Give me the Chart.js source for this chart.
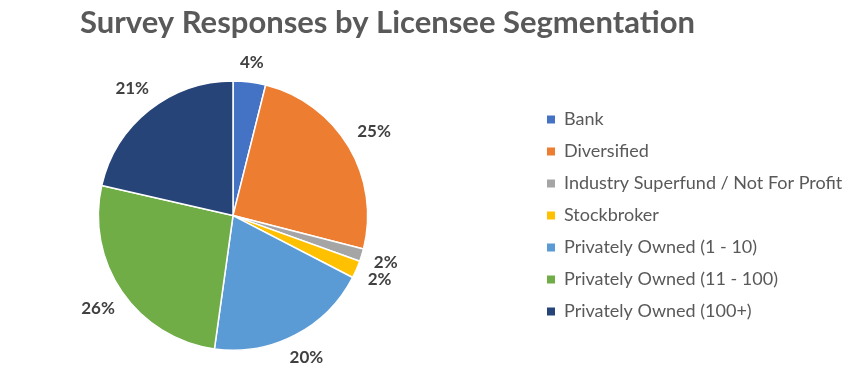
<!DOCTYPE html>
<html><head><meta charset="utf-8">
<script src="https://cdn.jsdelivr.net/npm/chart.js@4.4.1/dist/chart.umd.min.js"></script>
<style>html,body{margin:0;padding:0;background:#fff;overflow:hidden;} #wrap{width:850px;height:381px;position:relative;overflow:hidden;} #c{position:absolute;left:-80px;top:0;}</style>
</head><body><div id="wrap"><canvas id="c" width="930" height="381"></canvas></div>
<script>
const titleText = 'Survey Responses by Licensee Segmentation';
const categories = ['Bank', 'Diversified', 'Industry Superfund / Not For Profit', 'Stockbroker', 'Privately Owned (1 - 10)', 'Privately Owned (11 - 100)', 'Privately Owned (100+)'];
const shares = [3.9, 25.1, 1.5, 2.1, 19.6, 26.4, 21.4];
const colors = ['#4472C4', '#ED7D31', '#A5A5A5', '#FFC000', '#5B9BD5', '#70AD47', '#264478'];

const SHIFT = 80; // canvas is offset left by this many px
const pctLabels = {
  id: 'pctLabels',
  afterDatasetsDraw(chart) {
    const ctx = chart.ctx;
    const meta = chart.getDatasetMeta(0);
    const data = chart.data.datasets[0].data;
    const total = data.reduce((a, b) => a + b, 0);
    ctx.save();
    ctx.font = 'bold 17px Lato';
    ctx.fillStyle = '#404040';
    ctx.textAlign = 'center';
    ctx.textBaseline = 'middle';
    meta.data.forEach((arc, i) => {
      const p = arc.getProps(['x', 'y', 'startAngle', 'endAngle', 'outerRadius'], true);
      const mid = (p.startAngle + p.endAngle) / 2;
      const txt = Math.round(data[i] / total * 100) + '%';
      const hw = ctx.measureText(txt).width / 2, hh = 6;
      const c = Math.cos(mid), s = Math.sin(mid);
      const r = p.outerRadius + 12 + hw * Math.abs(c) + hh * Math.abs(s);
      ctx.fillText(txt, p.x + r * c, p.y + r * s);
    });
    ctx.restore();
  }
};

const pad = {left: 15, right: 0, top: 0, bottom: 30};
const chart = new Chart(document.getElementById('c'), {
  type: 'pie',
  data: {
    labels: categories,
    datasets: [{data: shares, backgroundColor: colors, borderColor: '#ffffff', borderWidth: 1.5}]
  },
  options: {
    responsive: false,
    animation: false,
    layout: {padding: pad},
    plugins: {
      tooltip: {enabled: false},
      title: {
        display: true,
        text: titleText,
        color: '#595959',
        font: {family: 'Lato', size: 31, weight: 'bold'},
        padding: {top: 4, bottom: 39}
      },
      legend: {
        position: 'right',
        fullSize: false,
        maxWidth: 309,
        labels: {
          boxWidth: 8, boxHeight: 8, padding: 14,
          color: '#595959',
          font: {family: 'Lato', size: 18},
          generateLabels(ch) {
            const items = Chart.overrides.pie.plugins.legend.labels.generateLabels(ch);
            items.forEach(it => { it.lineWidth = 0; it.strokeStyle = 'rgba(0,0,0,0)'; });
            return items;
          }
        }
      }
    }
  },
  plugins: [pctLabels]
});

for (let k = 0; k < 4; k++) {
  const lg = chart.legend;
  const itemsX = lg.left + lg.options.labels.padding - SHIFT;
  pad.right += itemsX - 547;
  const ca = chart.chartArea;
  const cx = (ca.left + ca.right) / 2 - SHIFT;
  pad.left += 2 * (233 - cx);
  pad.bottom += ca.bottom - 351;
  chart.options.layout.padding = Object.assign({}, pad);
  chart.update();
}
</script>
</body></html>
